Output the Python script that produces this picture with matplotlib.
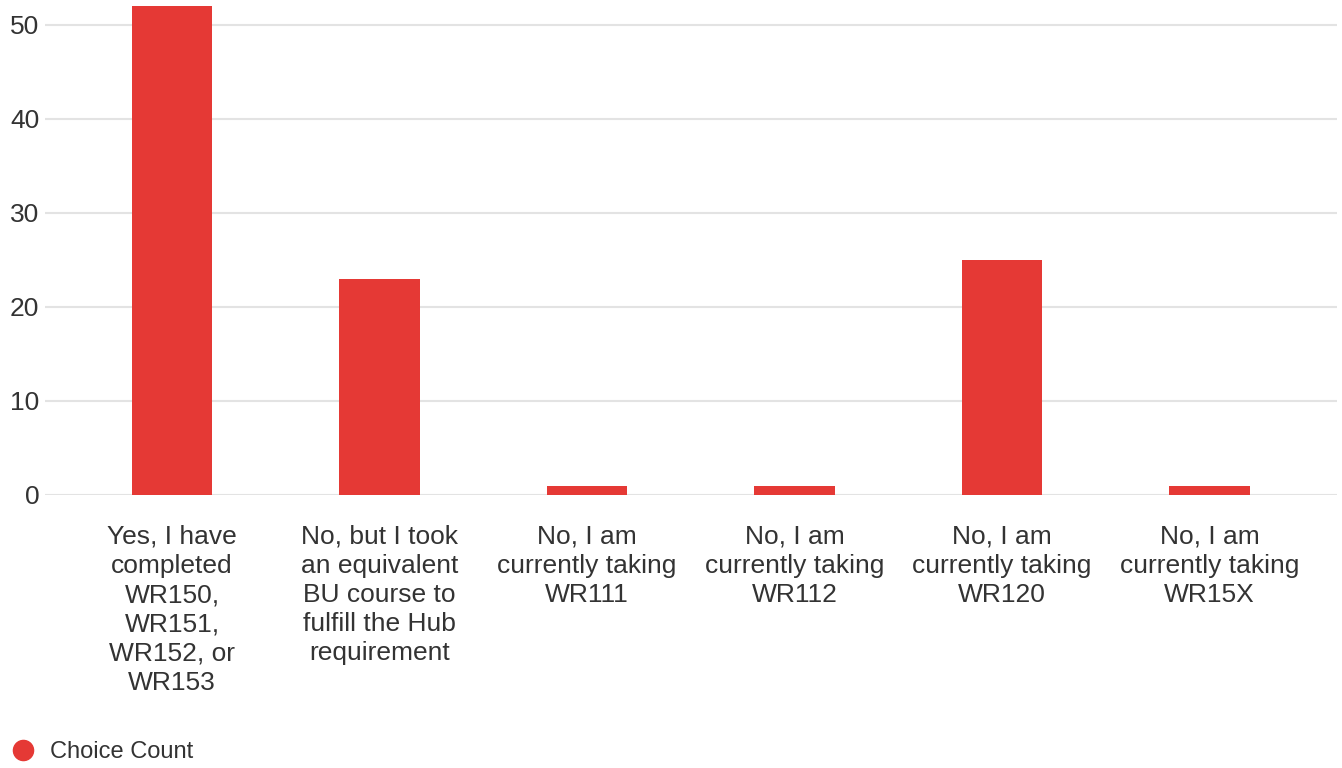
import matplotlib
matplotlib.use("Agg")
import matplotlib.pyplot as plt
from matplotlib.lines import Line2D

# data
categories = [
    "Yes, I have\ncompleted\nWR150,\nWR151,\nWR152, or\nWR153",
    "No, but I took\nan equivalent\nBU course to\nfulfill the Hub\nrequirement",
    "No, I am\ncurrently taking\nWR111",
    "No, I am\ncurrently taking\nWR112",
    "No, I am\ncurrently taking\nWR120",
    "No, I am\ncurrently taking\nWR15X",
]
counts = [52, 23, 1, 1, 25, 1]
yticks = [0, 10, 20, 30, 40, 50]

bar_color = "#e53935"
text_color = "#333333"
grid_color = "#e3e3e3"

plt.rcParams['font.family'] = ['Liberation Sans', 'DejaVu Sans']

fig = plt.figure(figsize=(13.42, 7.68), dpi=100)
ax = fig.add_axes([45 / 1342, 1 - 495 / 768, (1337 - 45) / 1342, (495 - 6) / 768])

x = list(range(len(categories)))
ax.bar(x, counts, width=0.39, color=bar_color, zorder=3)

ax.set_ylim(0, 52)
ax.set_xlim((45 - 172) / 207.5, (1337 - 172) / 207.5)
ax.set_yticks(yticks)
ax.set_yticklabels([str(v) for v in yticks], fontsize=19, color=text_color)
ax.set_xticks(x)
ax.set_xticklabels(categories, fontsize=19, color=text_color, linespacing=1.27, va="top")
ax.tick_params(axis="y", length=0, pad=4)
ax.tick_params(axis="x", length=0, pad=21.5)

ax.grid(axis="y", color=grid_color, linewidth=1.5, zorder=0)
for s in ax.spines.values():
    s.set_visible(False)

handle = Line2D([], [], marker="o", linestyle="none", markersize=14.5,
                markerfacecolor=bar_color, markeredgecolor=bar_color)
fig.legend([handle], ["Choice Count"], loc="center left",
           bbox_to_anchor=(0.0, 1 - 752 / 768), frameon=False,
           fontsize=17, labelcolor=text_color, handletextpad=0.27,
           handlelength=1.75, borderaxespad=0, borderpad=0.1)

fig.savefig("out.png", dpi=100)
